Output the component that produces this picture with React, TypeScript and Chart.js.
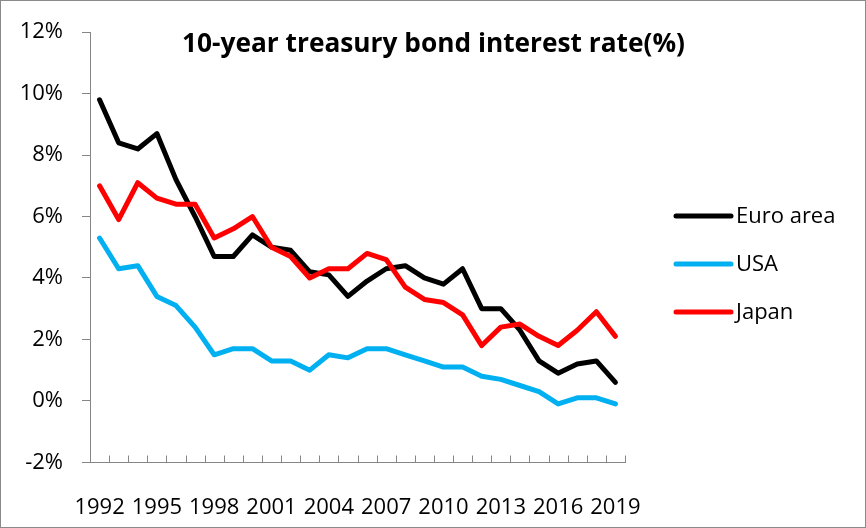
import React, { useEffect, useRef } from "react";
import { Chart, registerables } from "chart.js";

Chart.register(...registerables);

const chartTitle = "10-year treasury bond interest rate(%)";
const years = [
  "1992", "1993", "1994", "1995", "1996", "1997", "1998", "1999", "2000", "2001",
  "2002", "2003", "2004", "2005", "2006", "2007", "2008", "2009", "2010", "2011",
  "2012", "2013", "2014", "2015", "2016", "2017", "2018", "2019",
];
const euroArea = [9.8, 8.4, 8.2, 8.7, 7.2, 6.0, 4.7, 4.7, 5.4, 5.0, 4.9, 4.2, 4.1, 3.4, 3.9, 4.3, 4.4, 4.0, 3.8, 4.3, 3.0, 3.0, 2.3, 1.3, 0.9, 1.2, 1.3, 0.6];
const usa = [5.3, 4.3, 4.4, 3.4, 3.1, 2.4, 1.5, 1.7, 1.7, 1.3, 1.3, 1.0, 1.5, 1.4, 1.7, 1.7, 1.5, 1.3, 1.1, 1.1, 0.8, 0.7, 0.5, 0.3, -0.1, 0.1, 0.1, -0.1];
const japan = [7.0, 5.9, 7.1, 6.6, 6.4, 6.4, 5.3, 5.6, 6.0, 5.0, 4.7, 4.0, 4.3, 4.3, 4.8, 4.6, 3.7, 3.3, 3.2, 2.8, 1.8, 2.4, 2.5, 2.1, 1.8, 2.3, 2.9, 2.1];
const seriesNames = ["Euro area", "USA", "Japan"];
const seriesColors = ["#000000", "#00B0F0", "#FF0000"];
const yMin = -2;
const yMax = 12;
const yStep = 2;
const labelEvery = 3;

const FONT = '"Open Sans", "Liberation Sans", sans-serif';
const AXIS_GRAY = "#868686";

const framePlugin = {
  id: "frame",
  beforeDraw(chart: any) {
    const { ctx, width, height } = chart;
    ctx.save();
    ctx.fillStyle = "#ffffff";
    ctx.fillRect(0, 0, width, height);
    ctx.strokeStyle = "#8a8a8a";
    ctx.lineWidth = 1;
    ctx.strokeRect(0.5, 0.5, width - 1, height - 1);
    ctx.restore();
  },
  afterDatasetsDraw(chart: any) {
    // inward tick marks at category boundaries of the x axis
    const { ctx } = chart;
    const xs = chart.scales.x;
    const n = chart.data.labels.length;
    const step = (xs.right - xs.left) / n;
    const yb = Math.round(xs.top) + 0.5;
    ctx.save();
    ctx.strokeStyle = AXIS_GRAY;
    ctx.lineWidth = 1;
    ctx.beginPath();
    for (let i = 1; i <= n; i++) {
      const x = Math.round(xs.left + step * i) + 0.5;
      ctx.moveTo(x, yb);
      ctx.lineTo(x, yb - 7);
    }
    ctx.stroke();
    ctx.restore();
  },
  afterDraw(chart: any) {
    const { ctx, chartArea } = chart;
    ctx.save();
    // Title
    ctx.font = `bold 24px ${FONT}`;
    const w = ctx.measureText(chartTitle).width;
    const size = (24 * 503) / w;
    ctx.font = `bold ${size.toFixed(2)}px ${FONT}`;
    ctx.fillStyle = "#000";
    ctx.textAlign = "center";
    ctx.textBaseline = "alphabetic";
    ctx.fillText(chartTitle, 433.5, 52);

    // Legend
    const lx = chartArea.right + 51;
    const ly0 = 216;
    const gap = 48;
    ctx.font = `22px ${FONT}`;
    ctx.textAlign = "left";
    ctx.textBaseline = "middle";
    chart.data.datasets.forEach((ds: any, i: number) => {
      const y = ly0 + gap * i;
      ctx.strokeStyle = ds.borderColor;
      ctx.lineWidth = 5;
      ctx.lineCap = "round";
      ctx.beginPath();
      ctx.moveTo(lx, y);
      ctx.lineTo(lx + 55, y);
      ctx.stroke();
      ctx.fillStyle = "#000";
      ctx.fillText(ds.label, lx + 60, y + 1);
    });
    ctx.restore();
  },
};

export default function App() {
  const canvasRef = useRef<HTMLCanvasElement | null>(null);

  useEffect(() => {
    const canvas = canvasRef.current;
    if (!canvas) return;
    const series = [euroArea, usa, japan];
    const chart = new Chart(canvas, {
      type: "line",
      data: {
        labels: years,
        datasets: series.map((data, i) => ({
          label: seriesNames[i],
          data,
          borderColor: seriesColors[i],
          backgroundColor: seriesColors[i],
          borderWidth: 5,
          pointRadius: 0,
          tension: 0,
          fill: false,
          borderJoinStyle: "round" as const,
          borderCapStyle: "round" as const,
          order: series.length - i,
        })),
      },
      options: {
        responsive: false,
        animation: false,
        devicePixelRatio: 1,
        layout: { padding: { top: 30.7, right: 241, left: 0, bottom: 0 } },
        plugins: {
          legend: { display: false },
          title: { display: false },
          tooltip: { enabled: false },
        },
        scales: {
          x: {
            type: "category",
            offset: true,
            grid: { display: false },
            border: { display: true, color: AXIS_GRAY, width: 1 },
            ticks: {
              autoSkip: false,
              maxRotation: 0,
              minRotation: 0,
              padding: 24,
              color: "#000",
              font: { family: FONT, size: 22 },
              callback: (_v: any, i: number) => (i % labelEvery === 0 ? years[i] : ""),
            },
            afterFit: (s: any) => {
              s.height = 528 - 462.3;
            },
          },
          y: {
            min: yMin,
            max: yMax,
            grid: {
              display: true,
              drawOnChartArea: false,
              drawTicks: true,
              tickLength: 8,
              color: AXIS_GRAY,
              lineWidth: 1,
            },
            border: { display: true, color: AXIS_GRAY, width: 1 },
            ticks: {
              stepSize: yStep,
              padding: 19,
              color: "#000",
              font: { family: FONT, size: 22 },
              callback: (v: any) => `${v}%`,
            },
            afterFit: (s: any) => {
              s.width = 90;
            },
          },
        },
      },
      plugins: [framePlugin],
    });
    return () => chart.destroy();
  }, []);

  return (
    <div style={{ position: "absolute", left: 0, top: 0, width: 866, height: 528 }}>
      <canvas ref={canvasRef} width={866} height={528} style={{ display: "block" }} />
    </div>
  );
}
